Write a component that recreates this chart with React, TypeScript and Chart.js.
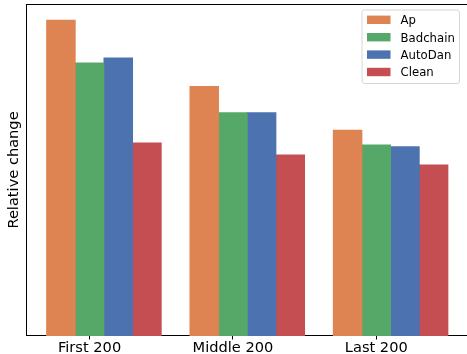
import React, { useEffect, useRef } from "react";
import { Chart, registerables } from "chart.js";

Chart.register(...registerables);

const CATEGORIES = ["First 200", "Middle 200", "Last 200"];
const GROUP_X = [0, 1, 2];
const TICK_X = [-0.1, 0.9, 1.9];

const SERIES_NAMES = ["Ap", "Badchain", "AutoDan", "Clean"];
const AP = [1.0, 0.791, 0.652];
const BADCHAIN = [0.865, 0.708, 0.606];
const AUTODAN = [0.881, 0.708, 0.6];
const CLEAN = [0.612, 0.574, 0.542];
const COLORS = ["#DD8452", "#55A868", "#4C72B0", "#C44E52"];

const FONT = "'DejaVu Sans', sans-serif";

const spinePlugin = {
  id: "topSpine",
  afterDraw(chart: any) {
    const { ctx, chartArea } = chart;
    ctx.save();
    ctx.strokeStyle = "#000";
    ctx.lineWidth = 1;
    ctx.beginPath();
    const y = Math.round(chartArea.top) + 0.5;
    ctx.moveTo(chartArea.left, y);
    ctx.lineTo(chartArea.right, y);
    ctx.stroke();
    ctx.restore();
  },
};

const legendPlugin = {
  id: "boxLegend",
  afterDraw(chart: any) {
    const { ctx, chartArea } = chart;
    const ds = chart.data.datasets;
    const x0 = chartArea.right - 106;
    const y0 = chartArea.top + 6;
    const w = 97.5;
    const h = 73.5;
    const r = 2.5;
    ctx.save();
    ctx.beginPath();
    ctx.moveTo(x0 + r, y0);
    ctx.lineTo(x0 + w - r, y0);
    ctx.quadraticCurveTo(x0 + w, y0, x0 + w, y0 + r);
    ctx.lineTo(x0 + w, y0 + h - r);
    ctx.quadraticCurveTo(x0 + w, y0 + h, x0 + w - r, y0 + h);
    ctx.lineTo(x0 + r, y0 + h);
    ctx.quadraticCurveTo(x0, y0 + h, x0, y0 + h - r);
    ctx.lineTo(x0, y0 + r);
    ctx.quadraticCurveTo(x0, y0, x0 + r, y0);
    ctx.closePath();
    ctx.fillStyle = "rgba(255,255,255,0.8)";
    ctx.fill();
    ctx.strokeStyle = "#d6d6d6";
    ctx.lineWidth = 1;
    ctx.stroke();
    ctx.font = `11.7px ${FONT}`;
    ctx.textBaseline = "alphabetic";
    ctx.textAlign = "left";
    ds.forEach((d: any, i: number) => {
      const base = y0 + 14.2 + i * 17.4;
      ctx.fillStyle = d.backgroundColor;
      ctx.fillRect(x0 + 5, base - 8.6, 23.5, 8.4);
      ctx.fillStyle = "#000";
      ctx.fillText(d.label, x0 + 38.6, base);
    });
    ctx.restore();
  },
};

export default function App() {
  const ref = useRef<HTMLCanvasElement | null>(null);

  useEffect(() => {
    if (!ref.current) return;
    const seriesValues = [AP, BADCHAIN, AUTODAN, CLEAN];
    const chart = new Chart(ref.current, {
      type: "bar",
      data: {
        datasets: SERIES_NAMES.map((name, s) => ({
          label: name,
          data: GROUP_X.map((x, i) => ({ x, y: seriesValues[s][i] })),
          backgroundColor: COLORS[s],
          borderWidth: 0,
          categoryPercentage: 0.8,
          barPercentage: 1.03,
        })),
      },
      options: {
        responsive: false,
        animation: false,
        devicePixelRatio: 1,
        layout: { padding: { left: 1, top: 4, right: 2, bottom: 0 } },
        plugins: {
          legend: { display: false },
          tooltip: { enabled: false },
        },
        scales: {
          x: {
            type: "linear",
            min: -0.54,
            max: 2.54,
            offset: false,
            bounds: "data",
            afterBuildTicks: (scale: any) => {
              scale.ticks = TICK_X.map((v) => ({ value: v }));
            },
            ticks: {
              callback: (_v: any, i: number) => CATEGORIES[i],
              font: { family: FONT, size: 14.6 },
              color: "#000",
              padding: 0,
              maxRotation: 0,
              autoSkip: false,
            },
            grid: {
              display: true,
              offset: false,
              drawOnChartArea: false,
              drawTicks: true,
              tickLength: 3.5,
              color: "#000",
              lineWidth: 1,
            },
            border: { display: true, color: "#000", width: 1 },
          },
          y: {
            min: 0,
            max: 1.05,
            ticks: { display: false },
            grid: { display: false, drawTicks: false },
            border: { display: true, color: "#000", width: 1 },
            title: {
              display: true,
              text: "Relative change",
              font: { family: FONT, size: 14.6 },
              color: "#000",
              padding: { top: 4, bottom: 4 },
            },
          },
        },
      },
      plugins: [spinePlugin, legendPlugin],
    });
    return () => chart.destroy();
  }, []);

  return (
    <div
      style={{
        position: "fixed",
        left: 0,
        top: 0,
        width: 467,
        height: 354,
        overflow: "hidden",
        background: "#fff",
      }}
    >
      <canvas ref={ref} width={470} height={357} style={{ display: "block" }} />
    </div>
  );
}
